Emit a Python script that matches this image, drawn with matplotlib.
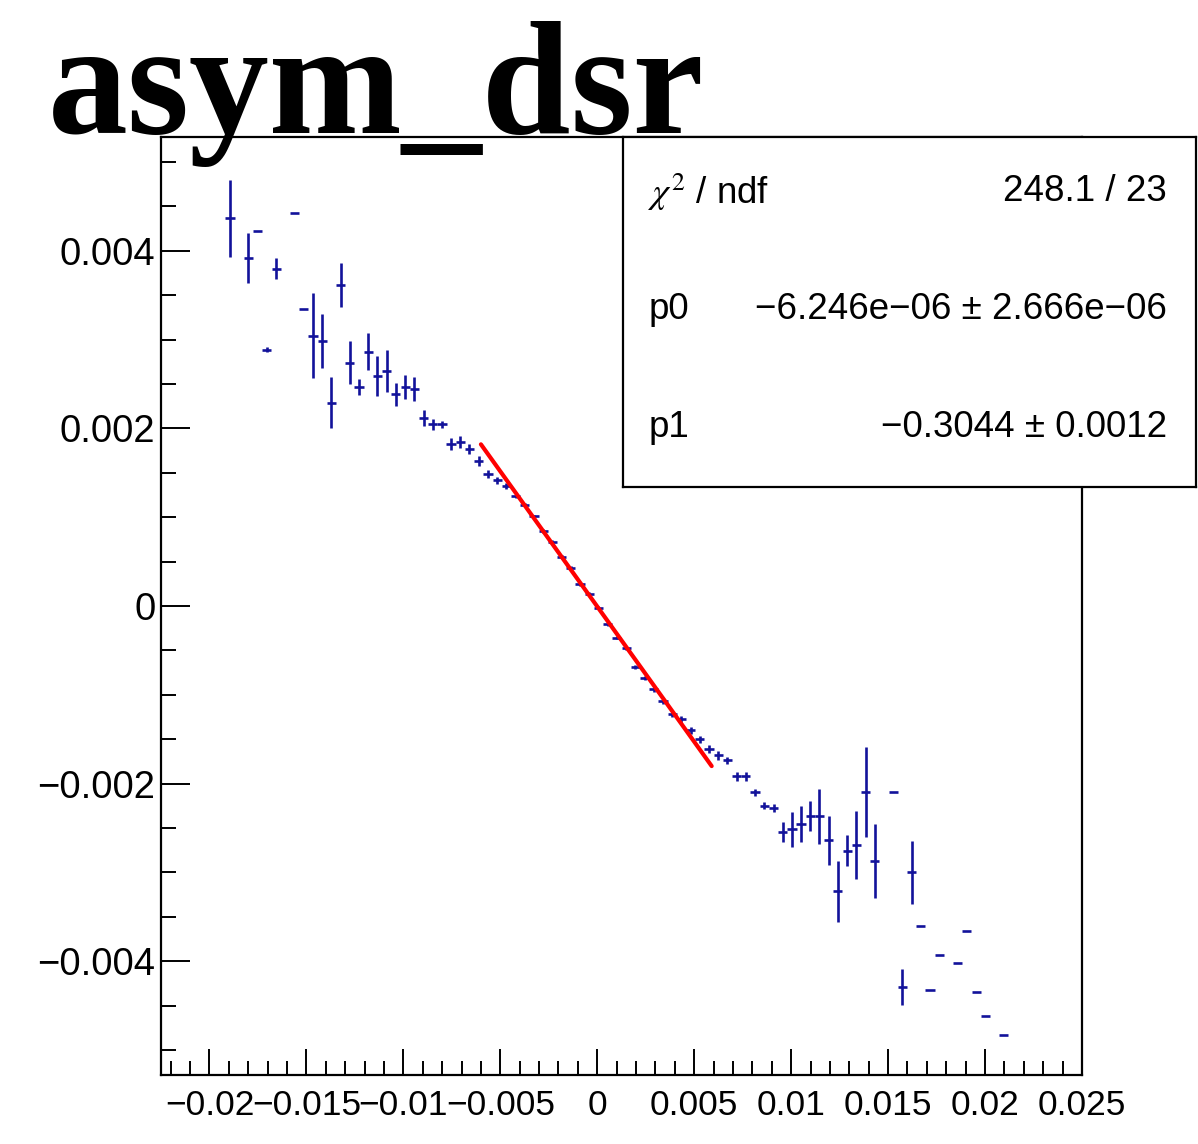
import numpy as np
import matplotlib
matplotlib.use("Agg")
import matplotlib.pyplot as plt
from matplotlib.ticker import MultipleLocator, FuncFormatter

# ---------------- data (histogram asym_dsr, bin width 0.000475) ----------------
x_centers = [-0.01894, -0.01799, -0.01751, -0.01704, -0.01656, -0.01561, -0.01514,
             -0.01466, -0.01419, -0.01371, -0.01324, -0.01276, -0.01229, -0.01181,
             -0.01134, -0.01086, -0.01039, -0.00991, -0.00944, -0.00896, -0.00849,
             -0.00801, -0.00754, -0.00706, -0.00659, -0.00611, -0.00564, -0.00516,
             -0.00469, -0.00421, -0.00374, -0.00326, -0.00279, -0.00231, -0.00184,
             -0.00136, -0.00089, -0.00041, 0.00006, 0.00054, 0.00101, 0.00149,
             0.00196, 0.00244, 0.00291, 0.00339, 0.00386, 0.00434, 0.00481,
             0.00529, 0.00576, 0.00624, 0.00671, 0.00719, 0.00766, 0.00814,
             0.00861, 0.00909, 0.00956, 0.01004, 0.01051, 0.01099, 0.01146,
             0.01194, 0.01241, 0.01289, 0.01336, 0.01384, 0.01431, 0.01526,
             0.01574, 0.01621, 0.01669, 0.01716, 0.01764, 0.01859, 0.01906,
             0.01954, 0.02001, 0.02096]

y_values = [0.004364, 0.003913, 0.004217, 0.002885, 0.003797, 0.004428, 0.003343,
            0.003042, 0.002986, 0.002291, 0.003614, 0.002741, 0.002468, 0.002865,
            0.002592, 0.002648, 0.002385, 0.002468, 0.002442, 0.002113, 0.002047,
            0.002047, 0.001820, 0.001851, 0.001766, 0.001634, 0.001482, 0.001416,
            0.001346, 0.001239, 0.001141, 0.001008, 0.000845, 0.000721, 0.000549,
            0.000425, 0.000248, 0.000132, -0.000019, -0.000206, -0.000357, -0.000477,
            -0.000687, -0.000808, -0.000939, -0.001070, -0.001220, -0.001277, -0.001400,
            -0.001502, -0.001615, -0.001682, -0.001739, -0.001915, -0.001915, -0.002096,
            -0.002246, -0.002279, -0.002546, -0.002516, -0.002453, -0.002366, -0.002366,
            -0.002637, -0.003211, -0.002753, -0.002696, -0.002096, -0.002873, -0.002096,
            -0.004290, -0.002997, -0.003598, -0.004319, -0.003932, -0.004019, -0.003662,
            -0.004349, -0.004620, -0.004826]

y_errors = [0.000432, 0.000282, 0.0, 0.000030, 0.000116, 0.0, 0.0,
            0.000479, 0.000301, 0.000282, 0.000251, 0.000237, 0.000090, 0.000206,
            0.000225, 0.000237, 0.000130, 0.000135, 0.000135, 0.000090, 0.000062,
            0.000040, 0.000068, 0.000068, 0.000056, 0.000056, 0.000045, 0.000040,
            0.000034, 0.000025, 0.000022, 0.000020, 0.000020, 0.000020, 0.000020,
            0.000020, 0.000020, 0.000020, 0.000020, 0.000020, 0.000020, 0.000020,
            0.000020, 0.000022, 0.000030, 0.000030, 0.000035, 0.000040, 0.000040,
            0.000040, 0.000045, 0.000050, 0.000040, 0.000050, 0.000050, 0.000040,
            0.000045, 0.000045, 0.000116, 0.000192, 0.000203, 0.000166, 0.000310,
            0.000276, 0.000341, 0.000172, 0.000383, 0.000505, 0.000417, 0.0,
            0.000203, 0.000357, 0.0, 0.0, 0.0, 0.0, 0.0,
            0.0, 0.0, 0.0]

bin_half_width = 0.0002375

fit_p0 = -6.246e-06
fit_p1 = -0.3044
fit_range = [-0.006, 0.0059]

stats_labels = ["$\\chi^{2}$ / ndf", "p0", "p1"]
stats_values = ["248.1 / 23", "\u22126.246e\u221206 \u00b1 2.666e\u221206", "\u22120.3044 \u00b1 0.0012"]

title_text = "asym_dsr"

# ---------------- figure ----------------
W, H = 1198, 1144
fig = plt.figure(figsize=(W / 100, H / 100), dpi=100)
plt.rcParams['mathtext.fontset'] = 'stix'

ax = fig.add_axes([161 / W, 1 - 1075 / H, (1082 - 161) / W, (1075 - 137) / H])

ax.errorbar(x_centers, y_values, yerr=y_errors, xerr=bin_half_width,
            fmt='none', ecolor='#12129a', elinewidth=1.9, capsize=0, zorder=3)

fx = np.array(fit_range)
ax.plot(fx, fit_p0 + fit_p1 * fx, color='#ff0000', lw=3.0, zorder=4,
        solid_capstyle='round')

ax.set_xlim(-0.0225, 0.025)
ax.set_ylim(-0.00528, 0.00528)

ax.xaxis.set_major_locator(MultipleLocator(0.005))
ax.xaxis.set_minor_locator(MultipleLocator(0.001))
ax.yaxis.set_major_locator(MultipleLocator(0.002))
ax.yaxis.set_minor_locator(MultipleLocator(0.0005))


def fmt(v, pos):
    if abs(v) < 1e-12:
        return "0"
    s = ("%.3f" % v).rstrip('0')
    return s.replace('-', '\u2212')


ax.xaxis.set_major_formatter(FuncFormatter(fmt))
ax.yaxis.set_major_formatter(FuncFormatter(fmt))

for sp in ax.spines.values():
    sp.set_linewidth(1.6)
    sp.set_color('black')

ax.tick_params(axis='x', which='major', direction='in', length=19, width=1.4,
               labelsize=25.5, pad=10, top=False)
ax.tick_params(axis='x', which='minor', direction='in', length=10, width=1.4, top=False)
ax.tick_params(axis='y', which='major', direction='in', length=21, width=1.4,
               labelsize=27.5, pad=4, right=False)
ax.tick_params(axis='y', which='minor', direction='in', length=11, width=1.4, right=False)
for lab in ax.get_xticklabels() + ax.get_yticklabels():
    lab.set_family('Liberation Sans')

# ---------------- stats box ----------------
bl, bt, br, bb = 623, 137, 1196, 487
sax = fig.add_axes([bl / W, 1 - bb / H, (br - bl) / W, (bb - bt) / H])
sax.set_xticks([])
sax.set_yticks([])
sax.set_facecolor('white')
for sp in sax.spines.values():
    sp.set_linewidth(1.6)
    sp.set_color('black')
rows_y = [0.843, 0.506, 0.169]
for lab, val, yy in zip(stats_labels, stats_values, rows_y):
    sax.text(0.044, yy, lab, transform=sax.transAxes, ha='left', va='center',
             fontsize=26.5, family='Liberation Sans')
    sax.text(0.949, yy, val, transform=sax.transAxes, ha='right', va='center',
             fontsize=26.5, family='Liberation Sans')

# ---------------- title ----------------
fig.text(48 / W, 1 - 133 / H, title_text, ha='left', va='baseline',
         fontsize=115, family='Liberation Serif', weight='bold')

fig.savefig("out.png", dpi=100)
